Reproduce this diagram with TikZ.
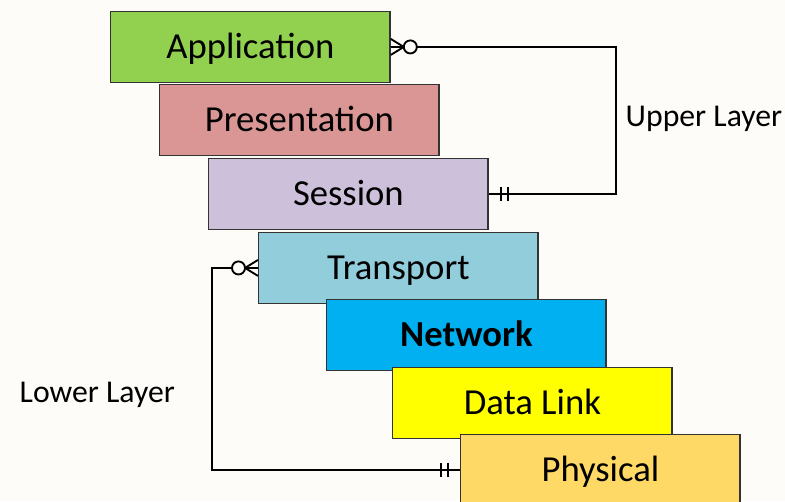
\documentclass[tikz,border=0pt]{standalone}
\usepackage{fontspec}
\setmainfont{Carlito}
\usetikzlibrary{arrows.meta,positioning}

\definecolor{paper}{RGB}{253,252,248}
\definecolor{appgreen}{RGB}{146,208,80}
\definecolor{presred}{RGB}{218,150,148}
\definecolor{sesslilac}{RGB}{204,192,218}
\definecolor{transaqua}{RGB}{146,205,220}
\definecolor{netblue}{RGB}{0,176,240}
\definecolor{linkyellow}{RGB}{255,255,0}
\definecolor{physgold}{RGB}{255,217,102}

\tikzset{
  layerbox/.style={
    draw=black!80,
    line width=1pt,
    anchor=north west,
    inner sep=0pt,
    minimum width=209.6pt,
    minimum height=52.9pt,
    text height=21pt,
    text depth=4pt,
    font=\fontsize{27.5}{33}\selectfont
  },
  layername/.style={anchor=base west, font=\fontsize{23.8}{28}\selectfont},
  link/.style={draw=black, line width=1.4pt},
  crowfoot/.pic={
    \draw[link] (0,8) -- (13,0) -- (0,-8) (0,0) -- (13,0);
    \draw[link, fill=paper] (19.5,0) circle[radius=4.9pt];
  },
  onlyone/.pic={
    \draw[link] (12,-7) -- (12,7) (19,-7) -- (19,7);
  }
}

\begin{document}
\begin{tikzpicture}[x=0.75pt, y=-0.75pt]
    \fill[paper] (0,0) rectangle (785,501);
    \clip (0,0) rectangle (785,501);

    \foreach \name/\x/\y/\col/\txt in {app/110/11/appgreen/Application,
        pres/159/84/presred/Presentation, sess/208/158/sesslilac/Session,
        trans/258/232/transaqua/Transport, net/326/299/netblue/{\bfseries Network},
        dlink/392/367/linkyellow/Data Link, phys/460/434/physgold/Physical} {
      \node[layerbox, fill=\col] (\name) at (\x,\y) {\txt};
    }

    \node[layername] (upper) at (621,126) {Upper Layer};
    \node[layername] (lower) at (15,402) {Lower Layer};

    \coordinate (upbend) at (616,120);
    \coordinate (lowbend) at (212,370);

    \draw[link] (app.east) -| (upbend) |- (sess.east);
    \draw[link] (trans.west) -| (lowbend) |- (phys.west);

    \pic at (app.east) {crowfoot};
    \pic[rotate=180] at (trans.west) {crowfoot};
    \pic at (sess.east) {onlyone};
    \pic[rotate=180] at (phys.west) {onlyone};
  \end{tikzpicture}
\end{document}
